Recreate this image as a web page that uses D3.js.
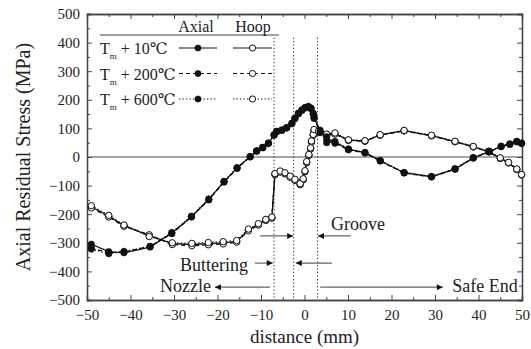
<!DOCTYPE html>
<html>
<head>
<meta charset="utf-8">
<script src="https://cdn.jsdelivr.net/npm/d3@7/dist/d3.min.js"></script>
<style>
  html, body { margin: 0; padding: 0; background: #fff; }
  svg { display: block; }
  svg text { font-family: "Liberation Serif", "Tinos", "DejaVu Serif", serif !important; fill: #222; }
</style>
</head>
<body>
<svg id="chart" width="531" height="349"></svg>
<script>
// Axial residual stress (filled markers), three torch temperatures
const axialX = [-49, -45, -41.5, -35.5, -30.5, -26, -22, -18.5, -15.5, -12.5, -11, -9.6, -8.3, -7, -6.4, -5.2, -4.1, -2.9, -2.2, -1.4, -0.6, 0.1, 0.9, 1.5, 2.0, 2.2, 3.6, 5.1, 7.0, 10.1, 13.9, 17.4, 22.9, 29.2, 34.6, 38.8, 42.5, 45.2, 47.2, 48.8, 49.9];
const axial10  = [-305, -331, -335, -315, -266, -209, -148, -86, -38, 1, 21, 33, 48, 77, 89, 94, 102, 117, 135, 152, 164, 172, 176, 170, 152, 137, 94, 60, 52, 27, 15, -13, -55, -69, -42, -3, 19, 37, 45, 54, 48];
const axial200 = [-318, -335, -332, -313, -268, -210, -150, -88, -40, 0, 20, 32, 47, 76, 88, 93, 101, 116, 134, 151, 163, 171, 175, 169, 150, 135, 85, 71, 48, 25, 14, -14, -56, -70, -43, -4, 18, 36, 44, 53, 47];
const axial600 = [-322, -338, -330, -312, -264, -207, -147, -85, -37, 2, 22, 34, 49, 78, 90, 95, 103, 118, 136, 153, 165, 173, 177, 171, 153, 138, 90, 50, 54, 28, 16, -12, -54, -68, -41, -2, 20, 38, 46, 55, 49];

// Hoop residual stress (open markers)
const hoopX = [-49, -45, -41.5, -35.7, -30.4, -25.9, -22.1, -18.7, -15.6, -12.9, -10.6, -8.9, -7.5, -6.8, -5.6, -4.5, -3.3, -2.2, -1.0, -0.3, 0.1, 0.5, 1.0, 1.4, 1.6, 2.0, 2.2, 3.2, 5.1, 7.0, 10.1, 13.9, 17.4, 22.9, 29.2, 34.6, 38.8, 42.3, 45.0, 46.9, 48.8, 49.9];
const hoop10  = [-174, -207, -240, -275, -303, -306, -303, -300, -295, -255, -236, -220, -212, -60, -51, -57, -69, -80, -95, -78, -50, -18, 7, 30, 54, 77, 94, 89, 78, 82, 59, 56, 77, 92, 75, 54, 36, 19, -4, -20, -43, -62];
const hoop200 = [-178, -210, -242, -272, -306, -310, -307, -304, -298, -258, -238, -222, -214, -62, -53, -59, -71, -82, -97, -80, -52, -20, 5, 28, 52, 75, 92, 87, 76, 80, 58, 55, 76, 91, 74, 53, 35, 18, -5, -21, -44, -63];
const hoop600 = [-170, -204, -238, -278, -300, -302, -299, -296, -292, -252, -233, -218, -210, -58, -49, -55, -67, -78, -93, -76, -48, -16, 9, 32, 56, 79, 96, 91, 80, 84, 60, 57, 78, 93, 76, 55, 37, 20, -3, -19, -42, -61];

const tempLabels = ["10℃", "200℃", "600℃"];
const dashes = [null, "4,3", "1.3,2.2"];
const axialSeries = [axial10, axial200, axial600];
const hoopSeries = [hoop10, hoop200, hoop600];

// Weld region boundaries (mm)
const boundaries = [-7, -2.5, 3];
const xTickValues = d3.range(-50, 51, 10);
const yTickValues = d3.range(-500, 501, 100);

const svg = d3.select("#chart");
const x = d3.scaleLinear().domain([-50, 50]).range([87, 522]);
const y = d3.scaleLinear().domain([-500, 500]).range([300, 14]);

// zero reference line
svg.append("line")
  .attr("x1", x(-50)).attr("x2", x(50))
  .attr("y1", y(0)).attr("y2", y(0))
  .attr("stroke", "#8a8a8a").attr("stroke-width", 1.6);

// boundary lines
svg.selectAll(".bound").data(boundaries).join("line")
  .attr("x1", d => x(d)).attr("x2", d => x(d))
  .attr("y1", y(418)).attr("y2", y(-500))
  .attr("stroke", "#333").attr("stroke-width", 1).attr("stroke-dasharray", "1.3,2.2");

// frame with inward ticks on all sides
const tickLen = 5, minorLen = 3;
const axB = d3.axisBottom(x).tickValues(xTickValues).tickSize(-tickLen).tickPadding(9).tickFormat(d3.format("d"));
const axT = d3.axisTop(x).tickValues(xTickValues).tickSize(-tickLen).tickFormat("");
const axL = d3.axisLeft(y).tickValues(yTickValues).tickSize(-tickLen).tickPadding(7).tickFormat(d3.format("d"));
const axR = d3.axisRight(y).tickValues(yTickValues).tickSize(-tickLen).tickFormat("");
const minorX = d3.range(-45, 50, 10), minorY = d3.range(-450, 500, 100);

function styleAxis(g) {
  g.attr("font-family", null).attr("font-size", null);
  g.select(".domain").attr("stroke", "#444").attr("stroke-width", 1.3);
  g.selectAll(".tick line").attr("stroke", "#444").attr("stroke-width", 1);
  g.selectAll(".tick text").style("font-size", "15px").attr("fill", "#333");
}
svg.append("g").attr("transform", `translate(0,${y(-500)})`).call(axB).call(styleAxis);
svg.append("g").attr("transform", `translate(0,${y(500)})`).call(axT).call(styleAxis);
svg.append("g").attr("transform", `translate(${x(-50)},0)`).call(axL).call(styleAxis);
svg.append("g").attr("transform", `translate(${x(50)},0)`).call(axR).call(styleAxis);

svg.append("g").attr("transform", `translate(0,${y(-500)})`)
  .call(d3.axisBottom(x).tickValues(minorX).tickSize(-minorLen).tickFormat("")).call(styleAxis);
svg.append("g").attr("transform", `translate(0,${y(500)})`)
  .call(d3.axisTop(x).tickValues(minorX).tickSize(-minorLen).tickFormat("")).call(styleAxis);
svg.append("g").attr("transform", `translate(${x(-50)},0)`)
  .call(d3.axisLeft(y).tickValues(minorY).tickSize(-minorLen).tickFormat("")).call(styleAxis);
svg.append("g").attr("transform", `translate(${x(50)},0)`)
  .call(d3.axisRight(y).tickValues(minorY).tickSize(-minorLen).tickFormat("")).call(styleAxis);

// axis titles
svg.append("text").attr("x", (x(-50) + x(50)) / 2).attr("y", 343)
  .attr("text-anchor", "middle").style("font-size", "19px").text("distance (mm)");
svg.append("text").attr("transform", `translate(30,${(y(-500) + y(500)) / 2}) rotate(-90)`)
  .attr("text-anchor", "middle").style("font-size", "20px").text("Axial Residual Stress (MPa)");

// curves
const line = d3.line().x(d => x(d[0])).y(d => y(d[1]));
const plot = svg.append("g");
function drawSeries(xs, vals, i, filled) {
  const pts = xs.map((v, k) => [v, vals[k]]);
  plot.append("path").datum(pts).attr("d", line)
    .attr("fill", "none").attr("stroke", "#111").attr("stroke-width", 1.3)
    .attr("stroke-dasharray", dashes[i]);
  plot.append("g").selectAll("circle").data(pts).join("circle")
    .attr("cx", d => x(d[0])).attr("cy", d => y(d[1])).attr("r", 3.2)
    .attr("fill", filled ? "#111" : "#fff")
    .attr("stroke", "#111").attr("stroke-width", filled ? 0.6 : 1);
}
hoopSeries.forEach((s, i) => drawSeries(hoopX, s, i, false));
axialSeries.forEach((s, i) => drawSeries(axialX, s, i, true));

// legend
const lg = svg.append("g");
lg.append("line").attr("x1", 100).attr("x2", 279).attr("y1", 35).attr("y2", 35)
  .attr("stroke", "#444").attr("stroke-width", 1.2);
lg.append("text").attr("x", 196).attr("y", 32).attr("text-anchor", "middle").style("font-size", "16px").text("Axial");
lg.append("text").attr("x", 253).attr("y", 32).attr("text-anchor", "middle").style("font-size", "16px").text("Hoop");
tempLabels.forEach((t, i) => {
  const cy = 48 + i * 25.5;
  const tx = lg.append("text").attr("x", 100).attr("y", cy + 6).style("font-size", "16px");
  tx.append("tspan").text("T");
  tx.append("tspan").attr("dy", 5).style("font-size", "9px").text("m");
  tx.append("tspan").attr("dy", -5).text(" + " + t);
  [[179, 217, true], [233, 272, false]].forEach(([a, b, filled]) => {
    lg.append("line").attr("x1", a).attr("x2", b).attr("y1", cy).attr("y2", cy)
      .attr("stroke", "#111").attr("stroke-width", 1.2).attr("stroke-dasharray", dashes[i]);
    lg.append("circle").attr("cx", (a + b) / 2).attr("cy", cy).attr("r", 3.1)
      .attr("fill", filled ? "#111" : "#fff").attr("stroke", "#111").attr("stroke-width", filled ? 0.6 : 1);
  });
});

// region annotations: arrows pointing at the boundaries
const defs = svg.append("defs");
defs.append("marker").attr("id", "head").attr("viewBox", "0 0 10 10")
  .attr("refX", 10).attr("refY", 5).attr("markerWidth", 9).attr("markerHeight", 6)
  .attr("markerUnits", "userSpaceOnUse").attr("orient", "auto")
  .append("path").attr("d", "M0,0 L10,5 L0,10 Z").attr("fill", "#111");

const arrows = [
  { from: -10.2, to: -2.6, v: -276 },
  { from: 10.6, to: 3.1, v: -276 },
  { from: -11.4, to: -7.3, v: -371 },
  { from: 6.3, to: -2.0, v: -371 },
  { from: -7.9, to: -20.6, v: -455 },
  { from: 3.6, to: 31.8, v: -455 }
];
svg.append("g").selectAll("line").data(arrows).join("line")
  .attr("x1", d => x(d.from)).attr("x2", d => x(d.to))
  .attr("y1", d => y(d.v)).attr("y2", d => y(d.v))
  .attr("stroke", "#666").attr("stroke-width", 1.2).attr("marker-end", "url(#head)");

const labels = [
  { text: "Groove", at: 6.1, v: -255, anchor: "start" },
  { text: "Buttering", at: -13.0, v: -399, anchor: "end" },
  { text: "Nozzle", at: -21.5, v: -472, anchor: "end" },
  { text: "Safe End", at: 49.0, v: -472, anchor: "end" }
];
svg.append("g").selectAll("text").data(labels).join("text")
  .attr("x", d => x(d.at)).attr("y", d => y(d.v)).attr("text-anchor", d => d.anchor)
  .style("font-size", "18px").text(d => d.text);
</script>
</body>
</html>
